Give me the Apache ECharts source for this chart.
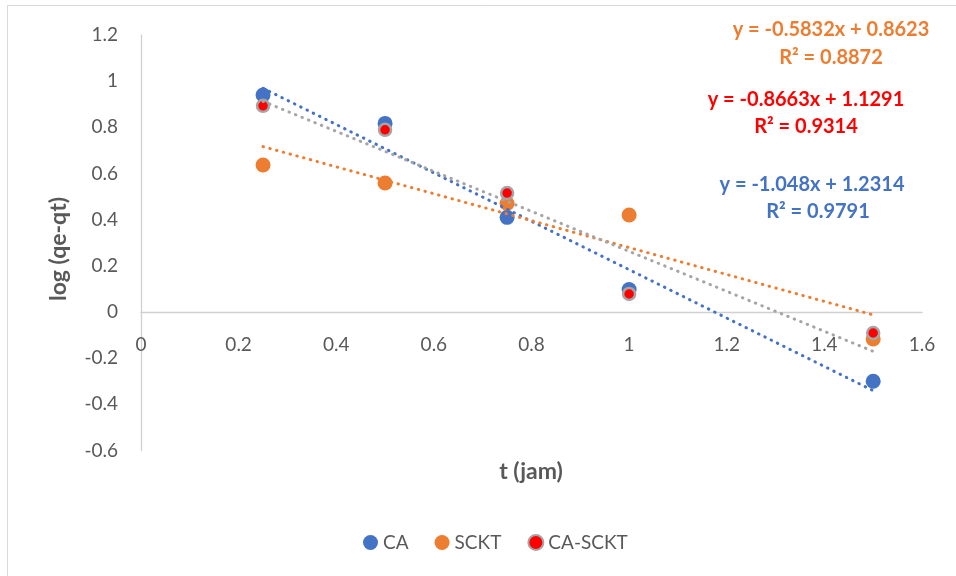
<!DOCTYPE html>
<html>
<head>
<meta charset="utf-8">
<script src="https://cdn.jsdelivr.net/npm/echarts@6/dist/echarts.min.js"></script>
<style>html,body{margin:0;padding:0;background:#fff}#c{width:956px;height:576px}</style>
</head>
<body>
<div id="c"></div>
<script>
const tValues = [0.25, 0.5, 0.75, 1, 1.5];
const caValues = [0.94, 0.817, 0.41, 0.097, -0.30];
const scktValues = [0.637, 0.559, 0.47, 0.42, -0.117];
const caScktValues = [0.893, 0.789, 0.515, 0.078, -0.091];
const seriesNames = ['CA', 'SCKT', 'CA-SCKT'];
// trendline coefficients [slope, intercept, R2] as printed on the chart
const trendCA = [-1.048, 1.2314, 0.9791];
const trendSCKT = [-0.5832, 0.8623, 0.8872];
const trendCASCKT = [-0.8663, 1.1291, 0.9314];
const xTicks = {min: 0, max: 1.6, interval: 0.2};
const yTicks = {min: -0.6, max: 1.2, interval: 0.2};

const FONT = 'Lato';
const TXT = '#595959';
const pts = v => tValues.map((t, i) => [t, v[i]]);
const trendPts = c => [tValues[0], tValues[tValues.length - 1]].map(t => [t, c[0] * t + c[1]]);
const eq = c => 'y = ' + c[0] + 'x + ' + c[1];
const r2 = c => 'R² = ' + c[2];

const chart = echarts.init(document.getElementById('c'), null, {renderer: 'canvas'});
const trendLine = (c, color) => ({
  type: 'line', data: trendPts(c), showSymbol: false, symbol: 'none', silent: true, z: 5,
  lineStyle: {color: color, width: 3, type: [0.5, 6.5], cap: 'round'}, legendHoverLink: false
});
const gridTop = 35, gridBottom = 125.5, plotH = 576 - gridTop - gridBottom;
// pixel offset from bottom of grid to the zero line (x axis labels sit under y=0)
const zeroOffset = plotH * (0 - yTicks.min) / (yTicks.max - yTicks.min);
const eqText = (x, y, t, color) => ({type: 'text', x: x, y: y, style: {text: t, font: 'bold 20px ' + FONT, fill: color, align: 'center', verticalAlign: 'middle'}});
chart.setOption({
  animation: false,
  backgroundColor: '#fff',
  grid: {left: 141, right: 34, top: gridTop, bottom: gridBottom},
  legend: {
    data: seriesNames, bottom: 19, left: 358, itemGap: 26, itemWidth: 15, itemHeight: 15,
    textStyle: {fontFamily: FONT, fontSize: 19, color: TXT}, icon: 'circle'
  },
  xAxis: {
    type: 'value', min: xTicks.min, max: xTicks.max, interval: xTicks.interval,
    splitLine: {show: false},
    axisLine: {onZero: true, lineStyle: {color: '#d0d0d0', width: 1.3}},
    axisTick: {show: false},
    axisLabel: {fontFamily: FONT, fontSize: 19, color: TXT, margin: 23 - zeroOffset}
  },
  yAxis: {
    type: 'value', min: yTicks.min, max: yTicks.max, interval: yTicks.interval,
    splitLine: {show: false},
    axisLine: {show: true, onZero: false, lineStyle: {color: '#d0d0d0', width: 1.3}},
    axisTick: {show: false},
    axisLabel: {fontFamily: FONT, fontSize: 19, color: TXT, margin: 23}
  },
  graphic: [
    {type: 'rect', shape: {x: 7.5, y: 5.5, width: 1000, height: 1000}, style: {fill: 'none', stroke: '#d9d9d9', lineWidth: 1}, silent: true},
    {type: 'text', x: 59, y: 249, rotation: Math.PI / 2, style: {text: 'log (qe-qt)', font: 'bold 23px ' + FONT, fill: TXT, align: 'center', verticalAlign: 'middle'}},
    {type: 'text', x: 531, y: 472, style: {text: 't (jam)', font: 'bold 23px ' + FONT, fill: TXT, align: 'center', verticalAlign: 'middle'}},
    eqText(831, 30, eq(trendSCKT), '#ED7D31'),
    eqText(831, 58, r2(trendSCKT), '#ED7D31'),
    eqText(806, 100, eq(trendCASCKT), '#FF0000'),
    eqText(806, 127, r2(trendCASCKT), '#FF0000'),
    eqText(812, 185, eq(trendCA), '#4472C4'),
    eqText(818, 212, r2(trendCA), '#4472C4')
  ],
  series: [
    {name: 'CA', type: 'scatter', data: pts(caValues), symbolSize: 15, z: 2, itemStyle: {color: '#4472C4', opacity: 1}},
    {name: 'SCKT', type: 'scatter', data: pts(scktValues), symbolSize: 15, z: 3, itemStyle: {color: '#ED7D31', opacity: 1}},
    {name: 'CA-SCKT', type: 'scatter', data: pts(caScktValues), symbolSize: 12, z: 4, itemStyle: {color: '#FF0000', borderColor: '#A5A5A5', borderWidth: 2.5, opacity: 1}},
    trendLine(trendCA, '#4472C4'),
    trendLine(trendSCKT, '#ED7D31'),
    trendLine(trendCASCKT, '#A5A5A5')
  ]
});
</script>
</body>
</html>
